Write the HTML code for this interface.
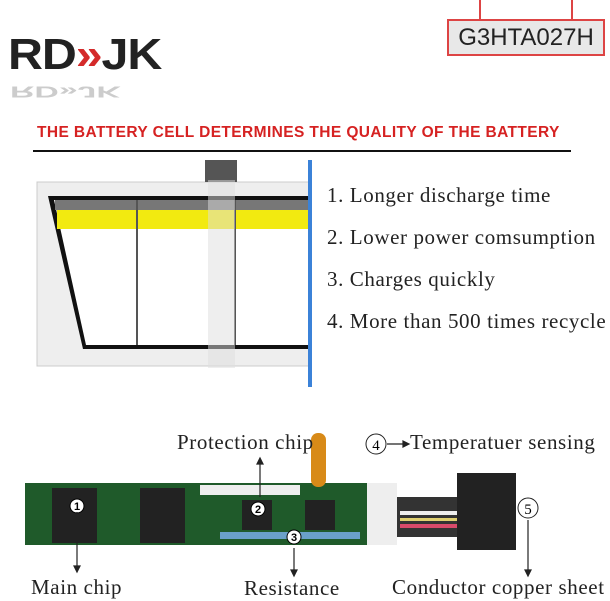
<!DOCTYPE html>
<html><head><meta charset="utf-8"><style>
body{margin:0;width:610px;height:600px;background:#fff;overflow:hidden;position:relative;font-family:"Liberation Serif",serif}
.a{position:absolute;white-space:nowrap}
.l{font-size:21px;letter-spacing:.6px;color:#222}
</style></head><body>
<div class="a" style="left:8px;top:30px;font:bold 44px 'Liberation Sans',sans-serif;color:#222;letter-spacing:-1px;transform:scaleX(1.1);transform-origin:left">RD<span style="color:#d42a2a">&raquo;</span>JK</div>
<div class="a" style="left:10px;top:76px;font:bold 26px 'Liberation Sans',sans-serif;color:#ccc;transform:scaleY(-0.6) scaleX(1.3);transform-origin:left">RD&raquo;JK</div>
<div class="a" style="left:479px;top:0;width:2px;height:20px;background:#d44"></div>
<div class="a" style="left:571px;top:0;width:2px;height:20px;background:#d44"></div>
<div class="a" style="left:447px;top:19px;width:154px;height:33px;border:2px solid #d44;background:#e8e8e8;font:24px 'Liberation Sans',sans-serif;color:#222;text-align:center;line-height:33px">G3HTA027H</div>
<div class="a" style="left:37px;top:124px;font:bold 15.5px 'Liberation Sans',sans-serif;color:#d62222;letter-spacing:.4px">THE BATTERY CELL DETERMINES THE QUALITY OF THE BATTERY</div>
<div class="a" style="left:33px;top:150px;width:538px;height:2px;background:#111"></div>
<svg class="a" style="left:0;top:0" width="610" height="600">
<rect x="37" y="182" width="272" height="184" fill="#eee" stroke="#ccc"/>
<polygon points="48,196 309,196 309,349 83,349" fill="#111"/>
<polygon points="54,200 309,200 309,345 86,345" fill="#fff"/>
<rect x="57" y="210" width="252" height="19" fill="#f2ea10"/>
<rect x="55" y="200" width="254" height="10" fill="#777"/>
<line x1="137" y1="200" x2="137" y2="345" stroke="#555" stroke-width="2"/>
<line x1="235" y1="200" x2="235" y2="345" stroke="#555" stroke-width="2"/>
<rect x="205" y="160" width="32" height="22" fill="#555"/>
<rect x="208" y="180" width="27" height="188" fill="#ddd" opacity=".5"/>
<rect x="308" y="160" width="4" height="227" fill="#3b82d8"/>
<rect x="25" y="483" width="342" height="62" fill="#1f5a2a"/>
<rect x="367" y="483" width="30" height="62" fill="#eee"/>
<rect x="397" y="497" width="60" height="40" fill="#333"/>
<rect x="400" y="511" width="57" height="4" fill="#eee"/>
<rect x="400" y="518" width="57" height="3" fill="#e0d070"/>
<rect x="400" y="524" width="57" height="4" fill="#d84a6a"/>
<rect x="457" y="473" width="59" height="77" fill="#222"/>
<rect x="52" y="488" width="45" height="55" fill="#222"/>
<rect x="140" y="488" width="45" height="55" fill="#222"/>
<rect x="242" y="500" width="30" height="30" fill="#222"/>
<rect x="305" y="500" width="30" height="30" fill="#222"/>
<rect x="200" y="485" width="100" height="10" fill="#eee"/>
<rect x="220" y="532" width="140" height="7" fill="#6aa0c8"/>
<rect x="311" y="433" width="15" height="54" rx="7" fill="#d88a18"/>
<g fill="#fff" stroke="#000">
<circle cx="77" cy="506" r="7"/><circle cx="258" cy="509" r="7"/><circle cx="294" cy="537" r="7"/></g>
<g font-size="11" font-weight="bold" text-anchor="middle" font-family="Liberation Sans"><text x="77" y="510">1</text><text x="258" y="513">2</text><text x="294" y="541">3</text></g>
<g stroke="#222" stroke-width="1.2" fill="#222">
<line x1="77" y1="512" x2="77" y2="568"/><polygon points="74,566 80,566 77,572"/>
<line x1="260" y1="497" x2="260" y2="462"/><polygon points="257,464 263,464 260,458"/>
<line x1="294" y1="548" x2="294" y2="572"/><polygon points="291,570 297,570 294,576"/>
<line x1="528" y1="520" x2="528" y2="572"/><polygon points="525,570 531,570 528,576"/>
<line x1="387" y1="444" x2="405" y2="444"/><polygon points="403,441 409,444 403,447"/>
</g>
<circle cx="376" cy="444" r="10" fill="none" stroke="#222"/><text x="376" y="450" font-size="15" text-anchor="middle">4</text>
<circle cx="528" cy="508" r="10" fill="none" stroke="#222"/><text x="528" y="514" font-size="15" text-anchor="middle">5</text>
</svg>
<div class="a l" style="left:327px;top:174px;line-height:42px">1. Longer discharge time<br>2. Lower power comsumption<br>3. Charges quickly<br>4. More than 500 times recycle</div>
<div class="a l" style="left:177px;top:430px">Protection chip</div>
<div class="a l" style="left:410px;top:430px">Temperatuer sensing</div>
<div class="a l" style="left:31px;top:575px">Main chip</div>
<div class="a l" style="left:244px;top:576px">Resistance</div>
<div class="a l" style="left:392px;top:575px">Conductor copper sheet</div>
</body></html>
